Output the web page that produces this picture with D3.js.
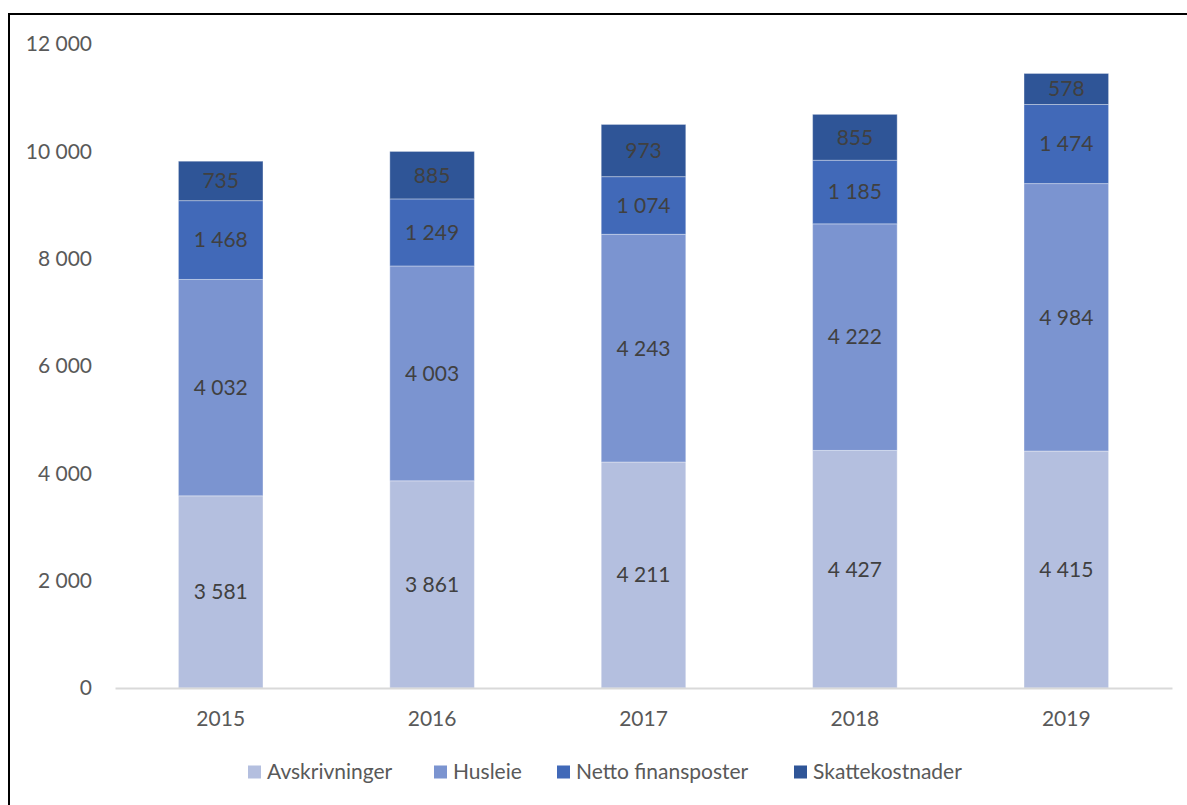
<!DOCTYPE html>
<html>
<head>
<meta charset="utf-8">
<script src="https://d3js.org/d3.v7.min.js"></script>
<style>
  body { margin: 0; background: #fff; }
  text { font-family: Lato, "Open Sans", sans-serif; }
</style>
</head>
<body>
<svg id="chart" width="1187" height="805"></svg>
<script>
var years = ["2015", "2016", "2017", "2018", "2019"];
var seriesNames = ["Avskrivninger", "Husleie", "Netto finansposter", "Skattekostnader"];
var avskrivninger = [3581, 3861, 4211, 4427, 4415];
var husleie = [4032, 4003, 4243, 4222, 4984];
var netto = [1468, 1249, 1074, 1185, 1474];
var skatt = [735, 885, 973, 855, 578];
var yTicks = [0, 2000, 4000, 6000, 8000, 10000, 12000];
var colors = ["#b4bfdf", "#7b94d0", "#4169b8", "#2f5597"];

var rows = years.map(function(y, i) {
  return { year: y, Avskrivninger: avskrivninger[i], Husleie: husleie[i],
    "Netto finansposter": netto[i], Skattekostnader: skatt[i] };
});

var locale = d3.formatLocale({ decimal: ",", thousands: "\u00a0", grouping: [3], currency: ["", " kr"] });
var fmt = locale.format(",d");

var svg = d3.select("#chart");
var margin = { left: 115, right: 15, top: 44, bottom: 117 };
var width = 1187 - margin.left - margin.right;
var height = 805 - margin.top - margin.bottom;
var fontSize = 21;

// frame of the chart area
svg.append("rect")
  .attr("x", 9).attr("y", 14)
  .attr("width", 1200).attr("height", 800)
  .attr("fill", "none")
  .attr("stroke", "#000")
  .attr("stroke-width", 2);

var g = svg.append("g").attr("transform", "translate(" + margin.left + "," + margin.top + ")");

var x = d3.scaleBand().domain(years).range([0, width]).paddingInner(0.6).paddingOuter(0.3);
var y = d3.scaleLinear().domain([0, 12000]).range([height, 0]);

var stack = d3.stack().keys(seriesNames)(rows);

var layer = g.selectAll(".layer")
  .data(stack)
  .enter().append("g")
    .attr("class", "layer")
    .attr("fill", function(d, i) { return colors[i]; });

layer.selectAll("rect")
  .data(function(d) { return d; })
  .enter().append("rect")
    .attr("x", function(d) { return x(d.data.year); })
    .attr("y", function(d) { return y(d[1]); })
    .attr("width", x.bandwidth())
    .attr("height", function(d) { return y(d[0]) - y(d[1]); })
    .attr("stroke", "#ffffff")
    .attr("stroke-opacity", 0.35)
    .attr("stroke-width", 1);

layer.selectAll("text")
  .data(function(d) { return d; })
  .enter().append("text")
    .attr("x", function(d) { return x(d.data.year) + x.bandwidth() / 2; })
    .attr("y", function(d) { return (y(d[0]) + y(d[1])) / 2; })
    .attr("dy", "0.35em")
    .attr("text-anchor", "middle")
    .attr("font-size", fontSize)
    .attr("fill", "#404040")
    .text(function(d) { return fmt(d[1] - d[0]); });

// y axis
var yAxis = g.append("g")
  .call(d3.axisLeft(y).tickValues(yTicks).tickSize(0).tickPadding(23).tickFormat(fmt));
yAxis.select(".domain").remove();
yAxis.selectAll("text").attr("font-size", fontSize).attr("fill", "#595959").style("font-family", "Lato, sans-serif");

// x axis
var xAxis = g.append("g")
  .attr("transform", "translate(0," + height + ")")
  .call(d3.axisBottom(x).tickSize(0).tickPadding(23));
xAxis.select(".domain").attr("stroke", "#d9d9d9").attr("stroke-width", 2);
xAxis.selectAll("text").attr("font-size", fontSize).attr("fill", "#595959").style("font-family", "Lato, sans-serif");

// legend
var legendX = [248, 434, 557, 794];
var legend = svg.append("g").attr("transform", "translate(0,772)");
var item = legend.selectAll(".item")
  .data(seriesNames)
  .enter().append("g")
    .attr("transform", function(d, i) { return "translate(" + legendX[i] + ",0)"; });
item.append("rect")
  .attr("x", 0).attr("y", -6.5)
  .attr("width", 13).attr("height", 13)
  .attr("fill", function(d, i) { return colors[i]; });
item.append("text")
  .attr("x", 19).attr("dy", "0.35em")
  .attr("font-size", fontSize)
  .attr("fill", "#595959")
  .text(function(d) { return d; });
</script>
</body>
</html>
